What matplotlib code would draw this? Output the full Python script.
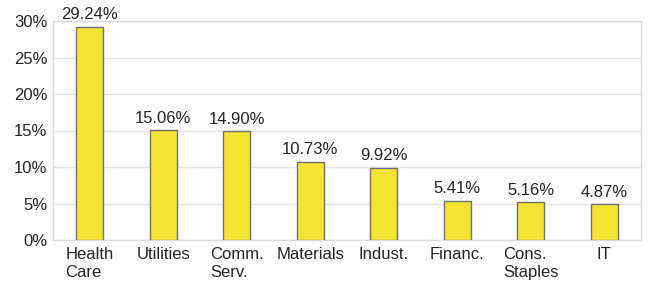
import matplotlib
matplotlib.use("Agg")
import matplotlib.pyplot as plt
from matplotlib.ticker import FuncFormatter

categories = ["Health\nCare", "Utilities", "Comm.\nServ.", "Materials", "Indust.",
              "Financ.", "Cons.\nStaples", "IT"]
values = [29.24, 15.06, 14.90, 10.73, 9.92, 5.41, 5.16, 4.87]
yticks = [0, 5, 10, 15, 20, 25, 30]

plt.rcParams['font.family'] = ['Liberation Sans', 'DejaVu Sans']
txt = '#222222'

fig = plt.figure(figsize=(6.49, 2.88), dpi=100)
ax = fig.add_axes([53/649, 1 - 240/288, (641-53)/649, (240-21)/288])

x = list(range(len(categories)))
ax.bar(x, values, width=0.37, color='#f4e535', edgecolor='#707070', linewidth=1.0, zorder=3)
for xi, v in zip(x, values):
    ax.text(xi, v + 0.6, f"{v:.2f}%", ha='center', va='bottom', fontsize=12, color=txt, zorder=4)

ax.set_xlim(-0.5, len(categories) - 0.5)
ax.set_ylim(0, 30)
ax.set_yticks(yticks)
ax.yaxis.set_major_formatter(FuncFormatter(lambda v, p: f"{v:.0f}%"))
ax.set_xticks(x)
ax.set_xticklabels(categories, multialignment='left', linespacing=1.25)
ax.tick_params(axis='both', length=0, labelsize=12, labelcolor=txt)
ax.tick_params(axis='x', pad=5)
ax.tick_params(axis='y', pad=4)
ax.grid(axis='y', color='#e3e3e3', linewidth=1.0, zorder=0)
for s in ax.spines.values():
    s.set_color('#d9d9d9')
    s.set_linewidth(1.0)

fig.savefig("out.png", dpi=100)
